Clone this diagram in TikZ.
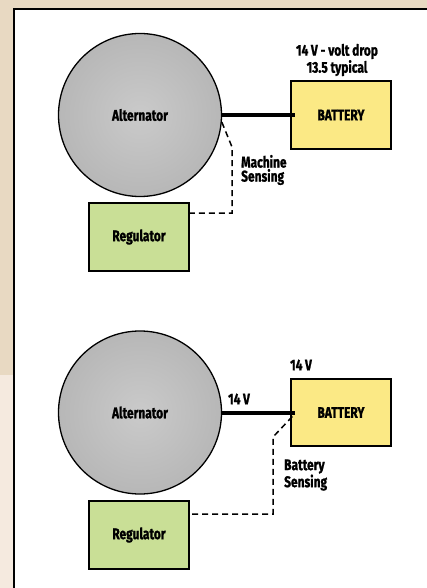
\documentclass[tikz,border=0pt]{standalone}
\usepackage{fontspec}
\setmainfont[FakeStretch=0.77, BoldFeatures={FakeBold=1.2}]{Fira Sans}
\definecolor{pagetan}{HTML}{E8D9C2}
\definecolor{pagelight}{HTML}{F5EADF}
\definecolor{battyellow}{HTML}{FBE985}
\definecolor{reggreen}{HTML}{C9DF96}
\definecolor{altlight}{HTML}{CACACA}
\definecolor{altdark}{HTML}{A4A4A4}
\pgfdeclareradialshading{altshade}{\pgfpoint{0bp}{0bp}}{color(0bp)=(altlight); color(50bp)=(altdark)}

\begin{document}
\begin{tikzpicture}[x=1pt,y=-1pt,
  txt/.style={font=\bfseries\fontsize{15.5}{14}\selectfont},
  alternator/.style={circle, draw, line width=1.3pt, minimum size=163pt,
    shading=altshade, txt},
  box/.style={draw, line width=1.8pt, minimum width=99.5pt, minimum height=67.5pt, txt},
  lbl/.style={txt, inner sep=0pt, align=left},
  power/.style={line width=4pt},
  sense/.style={line width=1.5pt, dash pattern=on 6pt off 4pt}]

\useasboundingbox (0,0) rectangle (427,588);
\fill[pagetan] (0,0) rectangle (427,375);
\fill[pagelight] (0,375) rectangle (14,588);
\fill[white] (14,9) rectangle (427,588);
\draw[line width=2pt] (14,588) -- (14,9) -- (427,9);

% machine sensing
\node[alternator] (alt1) at (140,115) {Alternator};
\node[box, fill=battyellow] (bat1) at (341,115) {BATTERY};
\node[box, fill=reggreen] (reg1) at (139,237) {Regulator};
\node[lbl, align=center] (drop) at (337,60) {14\,V - volt drop\\13.5 typical};
\node[lbl, anchor=west] (msense) at (241,170) {Machine\\Sensing};
\coordinate (m1) at (232,147);
\coordinate (m2) at (232,213);

\draw[power] (alt1.east) -- ([xshift=5pt]bat1.west);
\draw[sense] (alt1.-5) -- (m1) -- (m2) -- (m2 -| reg1.east);

% battery sensing
\node[alternator] (alt2) at (140,412.5) {Alternator};
\node[box, fill=battyellow] (bat2) at (341,412.5) {BATTERY};
\node[box, fill=reggreen] (reg2) at (139,535) {Regulator};
\node[lbl] (volt1) at (239,399) {14\,V};
\node[lbl] (volt2) at (301,365) {14\,V};
\node[lbl, anchor=west] (bsense) at (284,475) {Battery\\Sensing};
\coordinate (b1) at (273,437);
\coordinate (b2) at (273,514);

\draw[power] (alt2.east) -- ([xshift=5pt]bat2.west);
\draw[sense] ([shift={(2pt,-4pt)}]bat2.west) -- (b1) -- (b2) -- (b2 -| reg2.east);

\end{tikzpicture}
\end{document}
